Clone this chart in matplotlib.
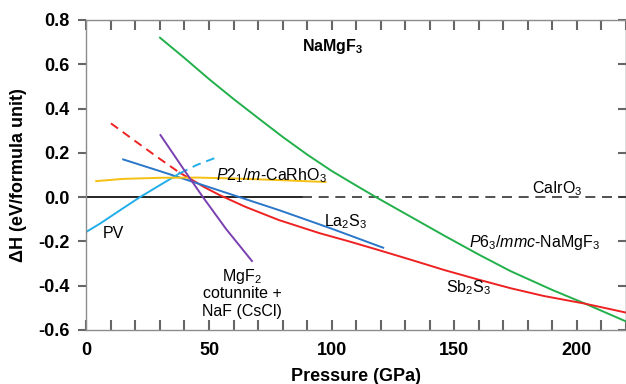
import numpy as np
import matplotlib
matplotlib.use("Agg")
from matplotlib import pyplot as plt
from matplotlib.ticker import MultipleLocator, FormatStrFormatter

plt.rcParams['font.family'] = ['Liberation Sans', 'DejaVu Sans']
plt.rcParams['mathtext.fontset'] = 'custom'
plt.rcParams['mathtext.rm'] = 'Liberation Sans'
plt.rcParams['mathtext.it'] = 'Liberation Sans:italic'
plt.rcParams['mathtext.bf'] = 'Liberation Sans:bold'

# P6_3/mmc-NaMgF3 (verde)
green_p = [30, 40, 50, 60, 70, 80, 90, 100, 110, 118, 130, 146, 160, 173, 190, 203, 220]
green_h = [0.72, 0.628, 0.533, 0.443, 0.357, 0.272, 0.192, 0.118, 0.052, 0.0,
           -0.075, -0.175, -0.26, -0.335, -0.42, -0.48, -0.562]

# Sb2S3 (vermelho): parte tracejada e parte continua
red_dash_p = [10, 20, 30, 38]
red_dash_h = [0.333, 0.252, 0.172, 0.11]
red_p = [38, 42, 48, 54.3, 65, 78.5, 95, 107, 119, 132.5, 146, 159.5, 173, 186.5, 203, 220]
red_h = [0.11, 0.085, 0.045, 0.009, -0.045, -0.104, -0.163, -0.2, -0.239, -0.284,
         -0.33, -0.372, -0.412, -0.447, -0.481, -0.522]

# La2S3 (azul)
blue_p = [15, 30, 45, 62.3, 78.5, 88, 100, 121]
blue_h = [0.17, 0.117, 0.063, 0.0, -0.059, -0.096, -0.143, -0.229]

# PV (azul claro): continua e tracejada
pv_p = [0, 5.7, 13.8, 21.9, 30, 38]
pv_h = [-0.157, -0.119, -0.059, 0.0, 0.054, 0.107]
pv_dash_p = [38, 45, 53]
pv_dash_h = [0.107, 0.145, 0.179]

# P2_1/m-CaRhO3 (amarelo)
yel_p = [4, 15, 30, 45, 60, 80, 97.5]
yel_h = [0.072, 0.082, 0.087, 0.088, 0.084, 0.076, 0.068]

# MgF2 cotunnite + NaF (roxo)
pur_p = [30.2, 40, 47.5, 57, 67.5]
pur_h = [0.28, 0.12, 0.0, -0.145, -0.289]

fig = plt.figure(figsize=(6.26, 3.84), dpi=100)
ax = fig.add_axes([0.138, 0.141, 0.862, 0.807])

ax.plot([0, 88], [0, 0], color="black", lw=1.2)
ax.plot([88, 220], [0, 0], color="#333333", lw=1.2, ls=(0, (6, 4)))

lw = 1.4
ax.plot(green_p, green_h, color="#22b04b", lw=lw)
ax.plot(red_dash_p, red_dash_h, color="#ee2222", lw=lw, ls=(0, (4.5, 3)))
ax.plot(red_p, red_h, color="#ee2222", lw=lw)
ax.plot(blue_p, blue_h, color="#2a77c9", lw=lw)
ax.plot(pv_p, pv_h, color="#22aee8", lw=lw)
ax.plot(pv_dash_p, pv_dash_h, color="#22aee8", lw=lw, ls=(0, (4.5, 3)))
ax.plot(yel_p, yel_h, color="#f5c013", lw=lw)
ax.plot(pur_p, pur_h, color="#7a3fb0", lw=lw)

ax.set_xlim(0, 220)
ax.set_ylim(-0.6, 0.8)
ax.xaxis.set_major_locator(MultipleLocator(50))
ax.xaxis.set_minor_locator(MultipleLocator(10))
ax.yaxis.set_major_locator(MultipleLocator(0.2))
ax.yaxis.set_major_formatter(FormatStrFormatter('%.1f'))

# eixos cinzas com marcas
tick_col = "#666666"
for s in ax.spines.values():
    s.set_color("#8c8c8c")
    s.set_linewidth(1.0)
ax.tick_params(axis="x", which="both", direction="in", top=True, bottom=True,
               color=tick_col, width=1.5, length=7, labelsize=13, pad=9)
ax.tick_params(axis="y", which="major", direction="out", left=True, right=False,
               color=tick_col, width=1.5, length=6, labelsize=13, pad=6)
for lab in ax.get_xticklabels() + ax.get_yticklabels():
    lab.set_fontweight("bold")
# marcas internas do lado direito
ax2 = ax.secondary_yaxis("right")
ax2.yaxis.set_major_locator(MultipleLocator(0.2))
ax2.tick_params(direction="in", length=6, width=1.5, color=tick_col, labelright=False)

ax.set_xlabel("Pressure (GPa)", fontsize=13, fontweight="bold", labelpad=6)
ax.set_ylabel("ΔH (eV/formula unit)", fontsize=13, fontweight="bold", labelpad=8)

fs = 11.5
ax.text(88, 0.68, r"$\mathbf{NaMgF_3}$", fontsize=fs, va="center")
ax.text(53, 0.095, r"$P2_1/m$-CaRhO$_3$", fontsize=fs, va="center")
ax.text(192, 0.04, r"CaIrO$_3$", fontsize=fs, va="center", ha="center")
ax.text(97, -0.11, r"La$_2$S$_3$", fontsize=fs, va="center")
ax.text(156, -0.205, r"$P6_3/mmc$-NaMgF$_3$", fontsize=fs, va="center")
ax.text(146.5, -0.41, r"Sb$_2$S$_3$", fontsize=fs, va="center")
ax.text(6.5, -0.165, "PV", fontsize=fs, va="center")
ax.text(63.5, -0.36, r"MgF$_2$", fontsize=fs, va="center", ha="center")
ax.text(63.5, -0.435, "cotunnite +", fontsize=fs, va="center", ha="center")
ax.text(63.5, -0.515, "NaF (CsCl)", fontsize=fs, va="center", ha="center")

fig.savefig("out.png", dpi=100)
